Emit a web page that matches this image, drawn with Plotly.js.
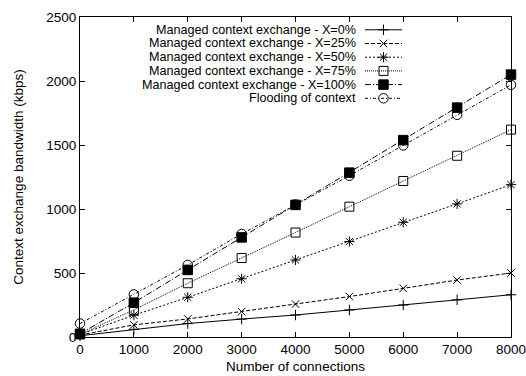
<!DOCTYPE html>
<html>
<head>
<meta charset="utf-8">
<script src="https://cdn.plot.ly/plotly-3.0.1.min.js"></script>
<style>
  html, body { margin: 0; padding: 0; background: #fff; }
  #chart { width: 526px; height: 376px; }
</style>
</head>
<body>
<div id="chart"></div>
<script>
// Number of connections (x axis)
const connections = [0, 1000, 2000, 3000, 4000, 5000, 6000, 7000, 8000];

// Context exchange bandwidth (kbps) per scheme
const managedX0   = [10, 60, 105, 140, 172, 211, 250, 290, 330];
const managedX25  = [15, 95, 141, 198, 257, 316, 380, 445, 500];
const managedX50  = [20, 170, 310, 455, 602, 746, 896, 1040, 1190];
const managedX75  = [20, 212, 420, 617, 816, 1018, 1219, 1416, 1620];
const managedX100 = [25, 268, 524, 778, 1032, 1284, 1538, 1792, 2050];
const flooding    = [105, 333, 563, 805, 1035, 1260, 1497, 1736, 1970];

const seriesNames = [
  'Managed context exchange - X=0%',
  'Managed context exchange - X=25%',
  'Managed context exchange - X=50%',
  'Managed context exchange - X=75%',
  'Managed context exchange - X=100%',
  'Flooding of context'
];
const seriesValues = [managedX0, managedX25, managedX50, managedX75, managedX100, flooding];

const xTicks = [0, 1000, 2000, 3000, 4000, 5000, 6000, 7000, 8000];
const yTicks = [0, 500, 1000, 1500, 2000, 2500];

// gnuplot-like point and dash styles
const styles = [
  {dash: 'solid',               symbol: 'cross-thin-open', size: 7.5},
  {dash: '4px,2px',             symbol: 'x-thin-open',     size: 7.5},
  {dash: '2px,2px',             symbol: 'asterisk-open',   size: 8.5},
  {dash: '1px,1px',             symbol: 'square-open',     size: 9},
  {dash: '6px,2px,1px,2px',     symbol: 'square',          size: 9.5},
  {dash: '3px,2px,1px,2px',     symbol: 'circle-open',     size: 9.5}
];

const FONT = 'Liberation Sans, Arial, Helvetica, sans-serif';
const FS = 13.5;
const KEY_FS = 12.6;

const W = 526, H = 376;
const M = {l: 80, r: 15, t: 17, b: 39};
const plotW = W - M.l - M.r, plotH = H - M.t - M.b;

const traces = [];
seriesNames.forEach((name, i) => {
  const st = styles[i];
  traces.push({
    type: 'scatter', mode: 'lines+markers', name: name,
    x: connections, y: seriesValues[i],
    line: {color: '#000', width: 1, dash: st.dash},
    marker: {symbol: st.symbol, size: st.size, color: '#000', line: {color: '#000', width: 1}},
    cliponaxis: false, showlegend: false
  });
});

// Key drawn inside the plot: right-aligned text, sample line with a point to its right
const keyTextRight = 357, keyLineFrom = 365, keyLineTo = 402, keyRow0 = 29.8, keyRowStep = 13.7;
const px2x = p => (p - M.l) / plotW;
const px2y = p => (H - M.b - p) / plotH;
const annotations = [];
seriesNames.forEach((name, i) => {
  const st = styles[i];
  const yc = px2y(keyRow0 + i * keyRowStep);
  traces.push({
    type: 'scatter', mode: 'lines', xaxis: 'x2', yaxis: 'y2',
    x: [px2x(keyLineFrom), px2x(keyLineTo)], y: [yc, yc],
    line: {color: '#000', width: 1, dash: st.dash},
    showlegend: false, hoverinfo: 'skip', cliponaxis: false
  });
  traces.push({
    type: 'scatter', mode: 'markers', xaxis: 'x2', yaxis: 'y2',
    x: [px2x((keyLineFrom + keyLineTo) / 2)], y: [yc],
    marker: {symbol: st.symbol, size: st.size, color: '#000', line: {color: '#000', width: 1}},
    showlegend: false, hoverinfo: 'skip', cliponaxis: false
  });
  annotations.push({
    xref: 'paper', yref: 'paper', x: px2x(keyTextRight), y: yc,
    xanchor: 'right', yanchor: 'middle', showarrow: false, borderpad: 0,
    text: name, font: {family: FONT, size: KEY_FS, color: '#000'}
  });
});

const axisCommon = {
  showline: true, linecolor: '#000', linewidth: 1,
  mirror: 'ticks', ticks: 'inside', ticklen: 5, tickwidth: 1, tickcolor: '#000',
  showgrid: false, zeroline: false,
  tickfont: {family: FONT, size: FS, color: '#000'},
  ticklabeloverflow: 'allow',
  fixedrange: true
};

const layout = {
  width: W, height: H,
  margin: M,
  paper_bgcolor: '#fff', plot_bgcolor: '#fff',
  showlegend: false,
  xaxis: Object.assign({}, axisCommon, {
    range: [0, 8000], tickvals: xTicks, ticktext: xTicks.map(String),
    title: {text: 'Number of connections', font: {family: FONT, size: FS, color: '#000'}, standoff: 5}
  }),
  yaxis: Object.assign({}, axisCommon, {
    range: [0, 2500], tickvals: yTicks, ticktext: yTicks.map(String),
    title: {text: 'Context exchange bandwidth (kbps)', font: {family: FONT, size: FS, color: '#000'}, standoff: 19}
  }),
  xaxis2: {overlaying: 'x', range: [0, 1], visible: false, fixedrange: true},
  yaxis2: {overlaying: 'y', range: [0, 1], visible: false, fixedrange: true},
  annotations: annotations
};

Plotly.newPlot('chart', traces, layout, {staticPlot: true, displayModeBar: false});
</script>
</body>
</html>
